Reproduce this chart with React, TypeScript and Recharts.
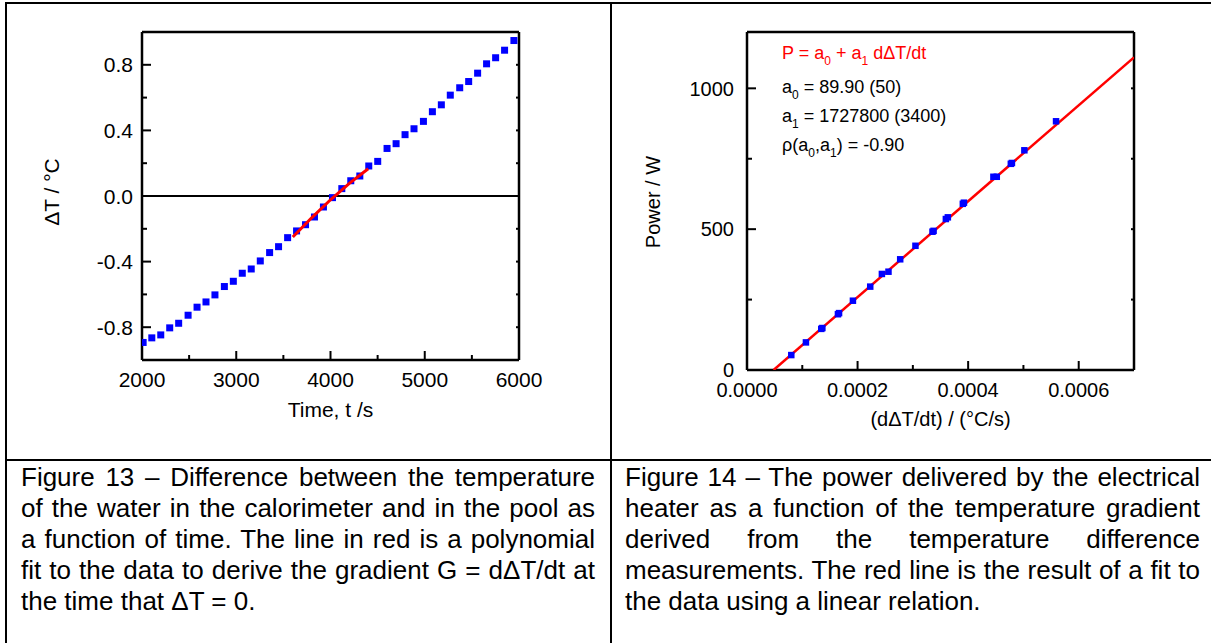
import React from 'react';
import { ScatterChart, Scatter, XAxis, YAxis, ReferenceLine } from 'recharts';

// Figure 13 - temperature difference against time
const timeS = [
  2012, 2104, 2199, 2294, 2389, 2489, 2584, 2679, 2774, 2874, 2969, 3064, 3159, 3255,
  3354, 3449, 3545, 3640, 3735, 3830, 3925, 4021, 4120, 4215, 4311, 4406, 4501, 4600,
  4696, 4791, 4886, 4986, 5081, 5176, 5271, 5371, 5466, 5561, 5656, 5752, 5847, 5946,
];
const deltaT = [
  -0.893, -0.865, -0.847, -0.804, -0.776, -0.727, -0.678, -0.646, -0.603, -0.552, -0.52,
  -0.471, -0.445, -0.396, -0.345, -0.309, -0.254, -0.213, -0.175, -0.128, -0.067, -0.01,
  0.045, 0.093, 0.122, 0.183, 0.211, 0.29, 0.319, 0.374, 0.41, 0.455, 0.514, 0.556, 0.615,
  0.66, 0.698, 0.749, 0.806, 0.843, 0.889, 0.948,
];
const fitTime = [3600, 3800, 4000, 4200, 4400];
const fitDeltaT = [-0.25, -0.133, -0.023, 0.077, 0.166];
const timeTicks = [2000, 2500, 3000, 3500, 4000, 4500, 5000, 5500, 6000];
const timeMajor = [2000, 3000, 4000, 5000, 6000];
const dtTicks = [-0.8, -0.6, -0.4, -0.2, 0, 0.2, 0.4, 0.6, 0.8];
const dtMajor = [-0.8, -0.4, 0, 0.4, 0.8];

// Figure 14 - heater power against temperature gradient
const gradient = [
  0.0000801, 0.0001066, 0.0001343, 0.0001363, 0.0001645, 0.0001665, 0.0001916, 0.0002229,
  0.000244, 0.0002559, 0.0002771, 0.0003047, 0.0003355, 0.0003375, 0.0003597, 0.0003633,
  0.0003904, 0.0003924, 0.0004457, 0.0004518, 0.0004772, 0.0004792, 0.0005017, 0.000559,
];
const power = [
  53, 98, 146, 149, 198, 202, 246, 296, 341, 349, 393, 441, 491, 494, 536, 542, 590, 594,
  686, 686, 732, 735, 780, 883,
];
const fitGradient = [0.0000481, 0.0007];
const fitPower = [0, 1110];
const gradTicks = [0, 0.0001, 0.0002, 0.0003, 0.0004, 0.0005, 0.0006];
const gradMajor = [0, 0.0002, 0.0004, 0.0006];
const powerTicks = [0, 250, 500, 750, 1000];
const powerMajor = [0, 500, 1000];

const captionLeft = [
  'Figure 13 – Difference between the temperature',
  'of the water in the calorimeter and in the pool as',
  'a function of time. The line in red is a polynomial',
  'fit to the data to derive the gradient G = dΔT/dt at',
  'the time that ΔT = 0.',
];
const captionRight = [
  'Figure 14 – The power delivered by the electrical',
  'heater as a function of the temperature gradient',
  'derived from the temperature difference',
  'measurements. The red line is the result of a fit to',
  'the data using a linear relation.',
];

const FONT = '"Liberation Sans", Arial, sans-serif';
const BLUE = '#0000ff';
const RED = '#ff0000';

const pts = (xs: number[], ys: number[]) => xs.map((x, i) => ({ x, y: ys[i] }));

type Side = 'bottom' | 'left' | 'top' | 'right';

// ticks point inward; labels only on major ticks of the bottom/left axes
const axisTick =
  (side: Side, majors: number[], fmt: ((v: number) => string) | null, fontSize = 20, gap = 9) =>
  (props: any) => {
    const { x, y, payload } = props;
    const v = payload.value;
    const major = majors.some((m) => Math.abs(m - v) < 1e-9);
    const len = fmt ? (major ? 9 : 5) : 3;
    let line = null;
    let label = null;
    if (side === 'bottom') {
      line = <line x1={x} x2={x} y1={y} y2={y - len} />;
      if (fmt && major)
        label = <text x={x} y={y + 27} textAnchor="middle">{fmt(v)}</text>;
    } else if (side === 'left') {
      line = <line x1={x} x2={x + len} y1={y} y2={y} />;
      if (fmt && major)
        label = <text x={x - gap} y={y + fontSize * 0.36} textAnchor="end">{fmt(v)}</text>;
    } else if (side === 'top') {
      line = <line x1={x} x2={x} y1={y} y2={y + len} />;
    } else {
      line = <line x1={x} x2={x - len} y1={y} y2={y} />;
    }
    return (
      <g>
        <g stroke="#000" strokeWidth={2}>{line}</g>
        {label && (
          <g fill="#000" fontSize={fontSize} fontFamily={FONT}>{label}</g>
        )}
      </g>
    );
  };

const square = (size: number) => (props: any) => (
  <rect x={props.cx - size / 2} y={props.cy - size / 2} width={size} height={size} fill={BLUE} />
);

const noShape = () => <g />;

const xTitle = (text: string, dy: number, fontSize: number) => (props: any) => {
  const vb = props.viewBox || props;
  return (
    <text x={vb.x + vb.width / 2} y={vb.y + dy} textAnchor="middle" fontSize={fontSize} fontFamily={FONT} fill="#000">
      {text}
    </text>
  );
};

const yTitle = (text: string, cx: number, shift: number, fontSize: number) => (props: any) => {
  const vb = props.viewBox || props;
  const cy = vb.y + vb.height / 2 + shift;
  return (
    <text
      x={vb.x + cx}
      y={cy}
      dy="0.36em"
      textAnchor="middle"
      transform={`rotate(-90, ${vb.x + cx}, ${cy})`}
      fontSize={fontSize}
      fontFamily={FONT}
      fill="#000"
    >
      {text}
    </text>
  );
};

const axisLine = { stroke: '#000', strokeWidth: 2.5 };

const TemperatureChart = () => (
  <ScatterChart width={610} height={460} margin={{ top: 22, right: 81, bottom: 30, left: 0 }}>
    <XAxis
      type="number"
      dataKey="x"
      domain={[2000, 6000]}
      ticks={timeTicks}
      interval={0}
      allowDataOverflow
      height={70}
      tickSize={0}
      tickMargin={0}
      tickLine={false}
      axisLine={axisLine}
      tick={axisTick('bottom', timeMajor, (v) => String(v), 21)}
      label={xTitle('Time, t /s', 57, 21)}
    />
    <XAxis
      xAxisId="top"
      orientation="top"
      type="number"
      domain={[2000, 6000]}
      ticks={timeTicks}
      interval={0}
      allowDataOverflow
      height={10}
      tickSize={0}
      tickMargin={0}
      tickLine={false}
      axisLine={axisLine}
      tick={axisTick('top', timeMajor, null)}
    />
    <YAxis
      type="number"
      dataKey="y"
      domain={[-1, 1]}
      ticks={dtTicks}
      interval={0}
      allowDataOverflow
      width={142}
      tickSize={0}
      tickMargin={0}
      tickLine={false}
      axisLine={axisLine}
      tick={axisTick('left', dtMajor, (v) => v.toFixed(1), 21, 9)}
      label={yTitle('ΔT / °C', 51, -4, 21)}
    />
    <YAxis
      yAxisId="right"
      orientation="right"
      type="number"
      domain={[-1, 1]}
      ticks={dtTicks}
      interval={0}
      allowDataOverflow
      width={10}
      tickSize={0}
      tickMargin={0}
      tickLine={false}
      axisLine={axisLine}
      tick={axisTick('right', dtMajor, null)}
    />
    <ReferenceLine y={0} stroke="#000" strokeWidth={2} />
    <Scatter data={pts(timeS, deltaT)} shape={square(7)} isAnimationActive={false} />
    <Scatter
      data={pts(fitTime, fitDeltaT)}
      line={{ stroke: RED, strokeWidth: 3 }}
      lineType="joint"
      shape={noShape}
      isAnimationActive={false}
    />
  </ScatterChart>
);

const PowerChart = () => (
  <ScatterChart width={600} height={460} margin={{ top: 22, right: 67, bottom: 20, left: 0 }}>
    <XAxis
      type="number"
      dataKey="x"
      domain={[0, 0.0007]}
      ticks={gradTicks}
      interval={0}
      allowDataOverflow
      height={70}
      tickSize={0}
      tickMargin={0}
      tickLine={false}
      axisLine={axisLine}
      tick={axisTick('bottom', gradMajor, (v) => v.toFixed(4), 20)}
      label={xTitle('(dΔT/dt) / (°C/s)', 56, 20)}
    />
    <XAxis
      xAxisId="top"
      orientation="top"
      type="number"
      domain={[0, 0.0007]}
      ticks={gradTicks}
      interval={0}
      allowDataOverflow
      height={10}
      tickSize={0}
      tickMargin={0}
      tickLine={false}
      axisLine={axisLine}
      tick={axisTick('top', gradMajor, null)}
    />
    <YAxis
      type="number"
      dataKey="y"
      domain={[0, 1200]}
      ticks={powerTicks}
      interval={0}
      allowDataOverflow
      width={136}
      tickSize={0}
      tickMargin={0}
      tickLine={false}
      axisLine={axisLine}
      tick={axisTick('left', powerMajor, (v) => String(v), 20, 13)}
      label={yTitle('Power / W', 42, 1, 20)}
    />
    <YAxis
      yAxisId="right"
      orientation="right"
      type="number"
      domain={[0, 1200]}
      ticks={powerTicks}
      interval={0}
      allowDataOverflow
      width={10}
      tickSize={0}
      tickMargin={0}
      tickLine={false}
      axisLine={axisLine}
      tick={axisTick('right', powerMajor, null)}
    />
    <Scatter
      data={pts(fitGradient, fitPower)}
      line={{ stroke: RED, strokeWidth: 2.5 }}
      lineType="joint"
      shape={noShape}
      isAnimationActive={false}
    />
    <Scatter data={pts(gradient, power)} shape={square(6.5)} isAnimationActive={false} />
  </ScatterChart>
);

const FitNote = () => (
  <svg
    width={1211}
    height={200}
    style={{ position: 'absolute', left: 0, top: 0, pointerEvents: 'none' }}
    fontFamily={FONT}
    fontSize={18}
  >
    <text x={782} y={59} fill={RED} style={{ whiteSpace: 'pre' }}>
      P = a<tspan fontSize={12} dy={6}>0</tspan>
      <tspan dy={-6}> + a</tspan>
      <tspan fontSize={12} dy={6}>1</tspan>
      <tspan dy={-6}> dΔT/dt</tspan>
    </text>
    <text x={782} y={93} fill="#000" style={{ whiteSpace: 'pre' }}>
      a<tspan fontSize={12} dy={6}>0</tspan>
      <tspan dy={-6}> = 89.90 (50)</tspan>
    </text>
    <text x={782} y={122} fill="#000" style={{ whiteSpace: 'pre' }}>
      a<tspan fontSize={12} dy={6}>1</tspan>
      <tspan dy={-6}> = 1727800 (3400)</tspan>
    </text>
    <text x={782} y={151} fill="#000" style={{ whiteSpace: 'pre' }}>
      ρ(a<tspan fontSize={12} dy={6}>0</tspan>
      <tspan dy={-6}>,a</tspan>
      <tspan fontSize={12} dy={6}>1</tspan>
      <tspan dy={-6}>) = -0.90</tspan>
    </text>
  </svg>
);

const Caption = ({ lines, left, width }: { lines: string[]; left: number; width: number }) => (
  <>
    {lines.map((line, i) => {
      const last = i === lines.length - 1;
      return (
        <div
          key={i}
          style={{
            position: 'absolute',
            left,
            top: 462 + i * 31,
            width,
            height: 31,
            lineHeight: '31px',
            fontSize: 26,
            whiteSpace: 'nowrap',
            textAlign: last ? 'left' : 'justify',
            textAlignLast: last ? 'left' : 'justify',
            color: '#000',
          } as React.CSSProperties}
        >
          {line}
        </div>
      );
    })}
  </>
);

const rule = (left: number, top: number, width: number, height: number) => (
  <div style={{ position: 'absolute', left, top, width, height, background: '#000' }} />
);

export default function App() {
  return (
    <div
      style={{
        position: 'absolute',
        left: 0,
        top: 0,
        width: 1211,
        height: 643,
        background: '#fff',
        overflow: 'hidden',
        fontFamily: FONT,
      }}
    >
      {rule(5, 2, 1206, 1.5)}
      {rule(5, 2, 2, 641)}
      {rule(610, 2, 2, 641)}
      {rule(5, 459, 1206, 2)}
      <div style={{ position: 'absolute', left: 0, top: 0 }}>
        <TemperatureChart />
      </div>
      <div style={{ position: 'absolute', left: 611, top: 0 }}>
        <PowerChart />
      </div>
      <FitNote />
      <Caption lines={captionLeft} left={21} width={574} />
      <Caption lines={captionRight} left={625} width={575} />
    </div>
  );
}
